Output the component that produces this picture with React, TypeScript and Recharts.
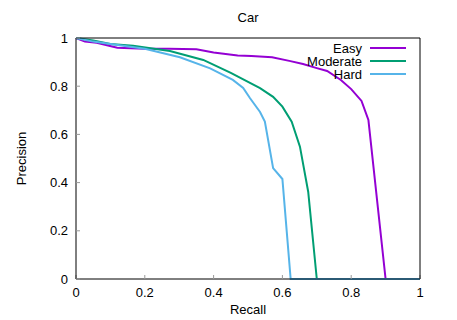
import React from 'react';
import { LineChart, Line, XAxis, YAxis, Legend } from 'recharts';

const easyRecall = [0, 0.026, 0.06, 0.12, 0.2, 0.27, 0.35, 0.4, 0.47, 0.51, 0.57, 0.62, 0.66, 0.7, 0.73, 0.77, 0.8, 0.83, 0.85, 0.9, 1];
const easyPrecision = [1, 0.985, 0.98, 0.96, 0.955, 0.955, 0.953, 0.94, 0.927, 0.925, 0.92, 0.905, 0.892, 0.875, 0.863, 0.826, 0.788, 0.739, 0.66, 0, 0];

const moderateRecall = [0, 0.05, 0.1, 0.166, 0.273, 0.37, 0.45, 0.535, 0.573, 0.6, 0.627, 0.651, 0.675, 0.7, 1];
const moderatePrecision = [1, 0.99, 0.975, 0.968, 0.946, 0.909, 0.855, 0.792, 0.756, 0.715, 0.653, 0.549, 0.362, 0, 0];

const hardRecall = [0, 0.05, 0.1, 0.2, 0.302, 0.39, 0.456, 0.486, 0.506, 0.535, 0.549, 0.573, 0.6, 0.624, 1];
const hardPrecision = [1, 0.985, 0.975, 0.955, 0.92, 0.874, 0.826, 0.793, 0.75, 0.693, 0.653, 0.46, 0.415, 0, 0];

const ticks = [0, 0.2, 0.4, 0.6, 0.8, 1];

const series = [
    { name: 'Easy', color: '#9400d3', recall: easyRecall, precision: easyPrecision },
    { name: 'Moderate', color: '#009e73', recall: moderateRecall, precision: moderatePrecision },
    { name: 'Hard', color: '#56b4e9', recall: hardRecall, precision: hardPrecision },
];

const toPoints = (xs: number[], ys: number[]) => xs.map((x, i) => ({ recall: x, precision: ys[i] }));

const FONT = '"Liberation Sans", Arial, sans-serif';
const tickStyle = { fill: '#000', fontSize: 13, fontFamily: FONT };
const tickLineStyle = { stroke: '#999' };
const frame = { stroke: '#000', strokeWidth: 1 };

// gnuplot-style key: label right-aligned, sample line after it
const renderLegend = () => (
    <div style={{ fontFamily: FONT, fontSize: 13, color: '#000' }}>
        {series.map(s => (
            <div key={s.name} style={{ height: 13, lineHeight: '13px', display: 'flex', alignItems: 'center' }}>
                <span style={{ width: 122, textAlign: 'right' }}>{s.name}</span>
                <span style={{ marginLeft: 8, width: 36, height: 2, background: s.color, display: 'inline-block' }} />
            </div>
        ))}
    </div>
);

export default function App() {
    return (
        <div style={{ position: 'relative', width: 457, height: 320, fontFamily: FONT }}>
            <style>{'body{margin:0}'}</style>
            <div style={{ position: 'absolute', top: 10, left: 0, width: 496, textAlign: 'center', fontSize: 13 }}>Car</div>
            <LineChart width={457} height={320} margin={{ top: 37, right: 36, bottom: 11, left: 0 }}>
                <XAxis
                    xAxisId="bottom"
                    dataKey="recall"
                    type="number"
                    domain={[0, 1]}
                    ticks={ticks}
                    interval={0}
                    height={30}
                    tickSize={-4}
                    tickMargin={13}
                    tick={tickStyle}
                    tickLine={tickLineStyle}
                    axisLine={frame}
                    tickFormatter={(v: number) => String(v)}
                    label={{ value: 'Recall', position: 'insideBottom', offset: -5, fill: '#000', fontSize: 13, fontFamily: FONT }}
                />
                <XAxis
                    xAxisId="top"
                    orientation="top"
                    dataKey="recall"
                    type="number"
                    domain={[0, 1]}
                    ticks={ticks}
                    interval={0}
                    height={1}
                    tickSize={-4}
                    tick={false}
                    tickLine={tickLineStyle}
                    axisLine={frame}
                />
                <YAxis
                    yAxisId="left"
                    type="number"
                    domain={[0, 1]}
                    ticks={ticks}
                    interval={0}
                    width={76}
                    tickSize={-4}
                    tickMargin={12}
                    tick={tickStyle}
                    tickLine={tickLineStyle}
                    axisLine={frame}
                    tickFormatter={(v: number) => String(v)}
                    label={{ value: 'Precision', angle: -90, position: 'insideLeft', offset: 21, fill: '#000', fontSize: 13, fontFamily: FONT, style: { textAnchor: 'middle' } }}
                />
                <YAxis
                    yAxisId="right"
                    orientation="right"
                    type="number"
                    domain={[0, 1]}
                    ticks={ticks}
                    interval={0}
                    width={1}
                    tickSize={-4}
                    tick={false}
                    tickLine={tickLineStyle}
                    axisLine={frame}
                />
                <Legend
                    layout="vertical"
                    align="center"
                    verticalAlign="middle"
                    wrapperStyle={{ top: 41.5, left: 240, width: 170 }}
                    content={renderLegend}
                />
                {series.map(s => (
                    <Line
                        key={s.name}
                        xAxisId="bottom"
                        yAxisId="left"
                        data={toPoints(s.recall, s.precision)}
                        dataKey="precision"
                        name={s.name}
                        type="linear"
                        stroke={s.color}
                        strokeWidth={2}
                        dot={false}
                        activeDot={false}
                        isAnimationActive={false}
                    />
                ))}
            </LineChart>
        </div>
    );
}
